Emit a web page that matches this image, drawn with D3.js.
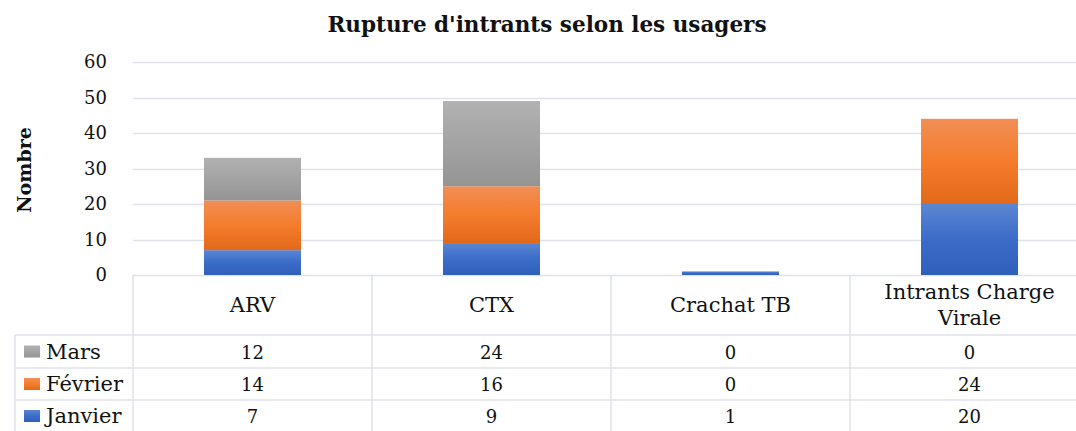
<!DOCTYPE html>
<html>
<head>
<meta charset="utf-8">
<script src="https://cdn.jsdelivr.net/npm/d3@7"></script>
<style>
  body { margin: 0; background: #fff; }
  text { font-family: "DejaVu Serif", "Liberation Serif", serif; fill: #111; }
</style>
</head>
<body>
<div id="chart"></div>
<script>
var width  = 1076,
    height = 431;

// data
var categories = ["ARV", "CTX", "Crachat TB", "Intrants Charge Virale"];
var categoryLines = [["ARV"], ["CTX"], ["Crachat TB"], ["Intrants Charge", "Virale"]];
var seriesNames = ["Janvier", "Février", "Mars"];
var janvier = [7, 9, 1, 20];
var fevrier = [14, 16, 0, 24];
var mars    = [12, 24, 0, 0];
var yTicks  = [0, 10, 20, 30, 40, 50, 60];

var seriesValues = [janvier, fevrier, mars];
var gradStops = [
    ["#5b86d2", "#3a6cc8", "#2f5fb9"],
    ["#f18e56", "#f47c2c", "#e3691a"],
    ["#b1b1b1", "#a3a3a3", "#949494"]
];

var plotLeft = 133, plotRight = 1089, plotTop = 62, plotBottom = 275;
var rowTops = [335, 368, 400, 432];   // table rows (Mars, Février, Janvier)
var gridColor = "#dfe2e8";

var svg = d3.select("#chart").append("svg")
    .attr("width", width)
    .attr("height", height);

// gradients, light at top, darker at the bottom
var defs = svg.append("defs");
gradStops.forEach(function(stops, i){
    var g = defs.append("linearGradient")
        .attr("id", "grad" + i)
        .attr("x1", 0).attr("y1", 0).attr("x2", 0).attr("y2", 1);
    stops.forEach(function(c, j){
        g.append("stop").attr("offset", (j * 50) + "%").attr("stop-color", c);
    });
});

var x = d3.scaleBand()
    .domain(categories)
    .range([plotLeft, plotRight])
    .paddingInner(0)
    .paddingOuter(0);

var y = d3.scaleLinear()
    .domain([0, 60])
    .range([plotBottom, plotTop]);

// gridlines
svg.append("g")
    .selectAll("line")
    .data(yTicks)
    .enter().append("line")
    .attr("x1", plotLeft)
    .attr("x2", width)
    .attr("y1", function(d){ return Math.round(y(d)) + 0.5; })
    .attr("y2", function(d){ return Math.round(y(d)) + 0.5; })
    .attr("stroke", gridColor)
    .attr("stroke-width", 1.5);

// y tick labels
svg.append("g")
    .selectAll("text")
    .data(yTicks)
    .enter().append("text")
    .attr("x", 107)
    .attr("y", function(d){ return y(d); })
    .attr("dy", "0.35em")
    .attr("text-anchor", "end")
    .attr("font-size", 18)
    .text(function(d){ return d; });

// stacked bars
var stackData = categories.map(function(c, i){
    return { cat: c, janvier: janvier[i], fevrier: fevrier[i], mars: mars[i] };
});
var stack = d3.stack().keys(["janvier", "fevrier", "mars"]);
var layers = stack(stackData);
var barW = 97;

svg.append("g")
    .selectAll("g")
    .data(layers)
    .enter().append("g")
    .attr("fill", function(d, i){ return "url(#grad" + i + ")"; })
    .selectAll("rect")
    .data(function(d){ return d; })
    .enter().append("rect")
    .filter(function(d){ return d[1] - d[0] > 0; })
    .attr("x", function(d){ return x(d.data.cat) + x.bandwidth() / 2 - barW / 2; })
    .attr("width", barW)
    .attr("y", function(d){ return y(d[1]); })
    .attr("height", function(d){ return y(d[0]) - y(d[1]); });

// title
svg.append("text")
    .attr("x", 547)
    .attr("y", 32)
    .attr("text-anchor", "middle")
    .attr("font-size", 21.5)
    .attr("font-weight", "bold")
    .text("Rupture d'intrants selon les usagers");

// y axis title
svg.append("text")
    .attr("transform", "translate(31,170) rotate(-90)")
    .attr("text-anchor", "middle")
    .attr("font-size", 19)
    .attr("font-weight", "bold")
    .text("Nombre");

// ====== data table ======
var table = svg.append("g")
    .attr("stroke", gridColor)
    .attr("stroke-width", 1.5);

// vertical column dividers
var colEdges = categories.map(function(c){ return x(c); });
table.selectAll(".vline")
    .data(colEdges)
    .enter().append("line")
    .attr("x1", function(d){ return d; })
    .attr("x2", function(d){ return d; })
    .attr("y1", plotBottom)
    .attr("y2", height);

// left edge of legend column
table.append("line")
    .attr("x1", 15).attr("x2", 15)
    .attr("y1", rowTops[0]).attr("y2", height);

// horizontal row lines
table.selectAll(".hline")
    .data(rowTops.slice(0, 3))
    .enter().append("line")
    .attr("x1", 15)
    .attr("x2", width)
    .attr("y1", function(d){ return d; })
    .attr("y2", function(d){ return d; });

// header labels
svg.append("g")
    .selectAll("text")
    .data(categoryLines)
    .enter().append("text")
    .attr("text-anchor", "middle")
    .attr("font-size", 21)
    .each(function(lines, i){
        var cx = x(categories[i]) + x.bandwidth() / 2;
        var cy = (plotBottom + rowTops[0]) / 2;
        var t = d3.select(this);
        lines.forEach(function(l, j){
            t.append("tspan")
                .attr("x", cx)
                .attr("y", cy + (j - (lines.length - 1) / 2) * 26)
                .attr("dy", "0.35em")
                .text(l);
        });
    });

// rows, top row is Mars
var rowOrder = [2, 1, 0];
rowOrder.forEach(function(si, r){
    var top = rowTops[r], bottom = rowTops[r + 1];
    var cy = (top + bottom) / 2;

    svg.append("rect")
        .attr("x", 24)
        .attr("y", cy - 6)
        .attr("width", 16)
        .attr("height", 12)
        .attr("fill", "url(#grad" + si + ")");

    svg.append("text")
        .attr("x", 46)
        .attr("y", cy)
        .attr("dy", "0.35em")
        .attr("font-size", 21)
        .text(seriesNames[si]);

    svg.append("g")
        .selectAll("text")
        .data(seriesValues[si])
        .enter().append("text")
        .attr("x", function(d, i){ return x(categories[i]) + x.bandwidth() / 2; })
        .attr("y", cy + 1)
        .attr("dy", "0.35em")
        .attr("text-anchor", "middle")
        .attr("font-size", 18)
        .text(function(d){ return d; });
});
</script>
</body>
</html>
